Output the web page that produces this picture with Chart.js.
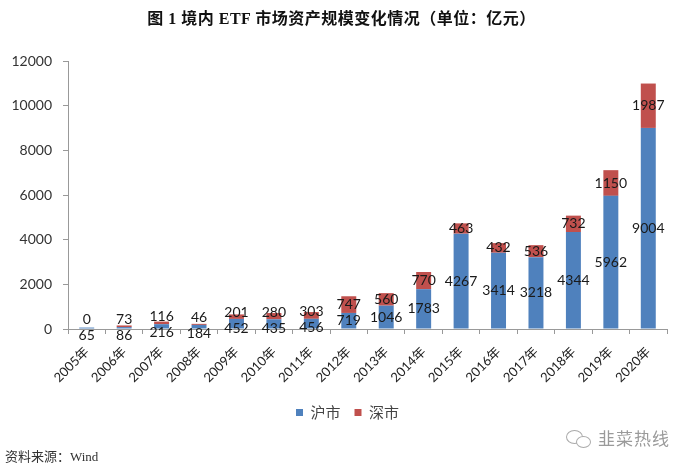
<!DOCTYPE html>
<html>
<head>
<meta charset="utf-8">
<script src="https://cdn.jsdelivr.net/npm/chart.js@4"></script>
<style>
  body { margin: 0; background: #fff; }
  #wrap { position: relative; width: 683px; height: 468px; }
  #title { position: absolute; left: 0; top: 5px; width: 683px; text-align: center;
    font: bold 16px "Liberation Serif", "Noto Sans CJK SC"; color: #111; letter-spacing: 0.5px; }
  #source { position: absolute; left: 5px; top: 446px;
    font: 13px "Liberation Serif", "Noto Sans CJK SC"; color: #333; }
  #mark { position: absolute; left: 598px; top: 425px;
    font: 17px "Noto Sans CJK SC"; color: #9a9a9a; letter-spacing: 1px; }
  .bub { position: absolute; border: 1.5px solid #aaa; border-radius: 50%; }
</style>
</head>
<body>
<div id="wrap">
  <canvas id="myChart" width="683" height="468"></canvas>
  <div id="title">图 1 境内 ETF 市场资产规模变化情况（单位：亿元）</div>
  <div class="bub" style="left:566px;top:430px;width:15px;height:12px;"></div>
  <div class="bub" style="left:576px;top:436px;width:13px;height:10px;background:#fff;"></div>
  <div id="mark">韭菜热线</div>
  <div id="source">资料来源：Wind</div>
</div>
<script>
var anos = ["2005年", "2006年", "2007年", "2008年", "2009年", "2010年", "2011年", "2012年",
            "2013年", "2014年", "2015年", "2016年", "2017年", "2018年", "2019年", "2020年"];
var huShi = [65, 86, 216, 184, 452, 435, 456, 719, 1046, 1783, 4267, 3414, 3218, 4344, 5962, 9004];
var shenShi = [0, 73, 116, 46, 201, 280, 303, 747, 560, 770, 463, 432, 536, 732, 1150, 1987];

// rotulos centrados em cada segmento, afastados quando ficam muito juntos
var rotulos = {
    id: "rotulos",
    afterLayout: function (chart) {
        // legenda um pouco para a direita, como no original
        var lg = chart.legend;
        lg.left += 14;
        lg.right += 14;
        lg.adjustHitBoxes();
    },
    afterDatasetsDraw: function (chart) {
        var ctx = chart.ctx;
        var azul = chart.getDatasetMeta(0).data;
        var verm = chart.getDatasetMeta(1).data;
        ctx.save();
        ctx.font = "14px Lato";
        ctx.fillStyle = "#1a1a1a";
        ctx.textAlign = "center";
        ctx.textBaseline = "middle";
        for (var i = 0; i < anos.length; i++) {
            var b = azul[i], r = verm[i];
            var yb = (b.y + b.base) / 2;
            var yr = (r.y + r.base) / 2;
            if (yb - yr < 16) {
                var meio = (yb + yr) / 2;
                yb = meio + 8;
                yr = meio - 8;
            }
            ctx.fillText(String(huShi[i]), b.x, yb);
            ctx.fillText(String(shenShi[i]), r.x, yr);
        }
        ctx.restore();
    }
};

var ctx = document.getElementById("myChart").getContext("2d");
var myChart = new Chart(ctx, {
    type: "bar",
    data: {
        labels: anos,
        datasets: [
            { label: "沪市", data: huShi, backgroundColor: "#4F81BD" },
            { label: "深市", data: shenShi, backgroundColor: "#C0504D" }
        ]
    },
    options: {
        responsive: false,
        animation: false,
        categoryPercentage: 0.8,
        barPercentage: 0.5,
        layout: { padding: { top: 61, right: 16, bottom: 38, left: 0 } },
        plugins: {
            tooltip: { enabled: false },
            legend: {
                position: "bottom",
                labels: {
                    boxWidth: 7, boxHeight: 7, padding: 14,
                    color: "#444",
                    font: { size: 15, family: "Noto Sans CJK SC" }
                }
            }
        },
        scales: {
            x: {
                stacked: true,
                grid: { drawOnChartArea: false, tickLength: 5, color: "#999" },
                border: { color: "#999" },
                ticks: {
                    minRotation: 45, maxRotation: 45, padding: 10,
                    color: "#222",
                    font: { size: 13, family: "Lato, Noto Sans CJK SC" }
                },
                afterFit: function (s) { s.height = 62; }
            },
            y: {
                stacked: true,
                min: 0, max: 12000,
                grid: { drawOnChartArea: false, tickLength: 5, color: "#999" },
                border: { color: "#999" },
                ticks: {
                    stepSize: 2000, padding: 11,
                    color: "#333",
                    font: { size: 14, family: "Lato" },
                    callback: function (v) { return String(v); }
                },
                afterFit: function (s) { s.width = 68; }
            }
        }
    },
    plugins: [rotulos]
});
</script>
</body>
</html>
